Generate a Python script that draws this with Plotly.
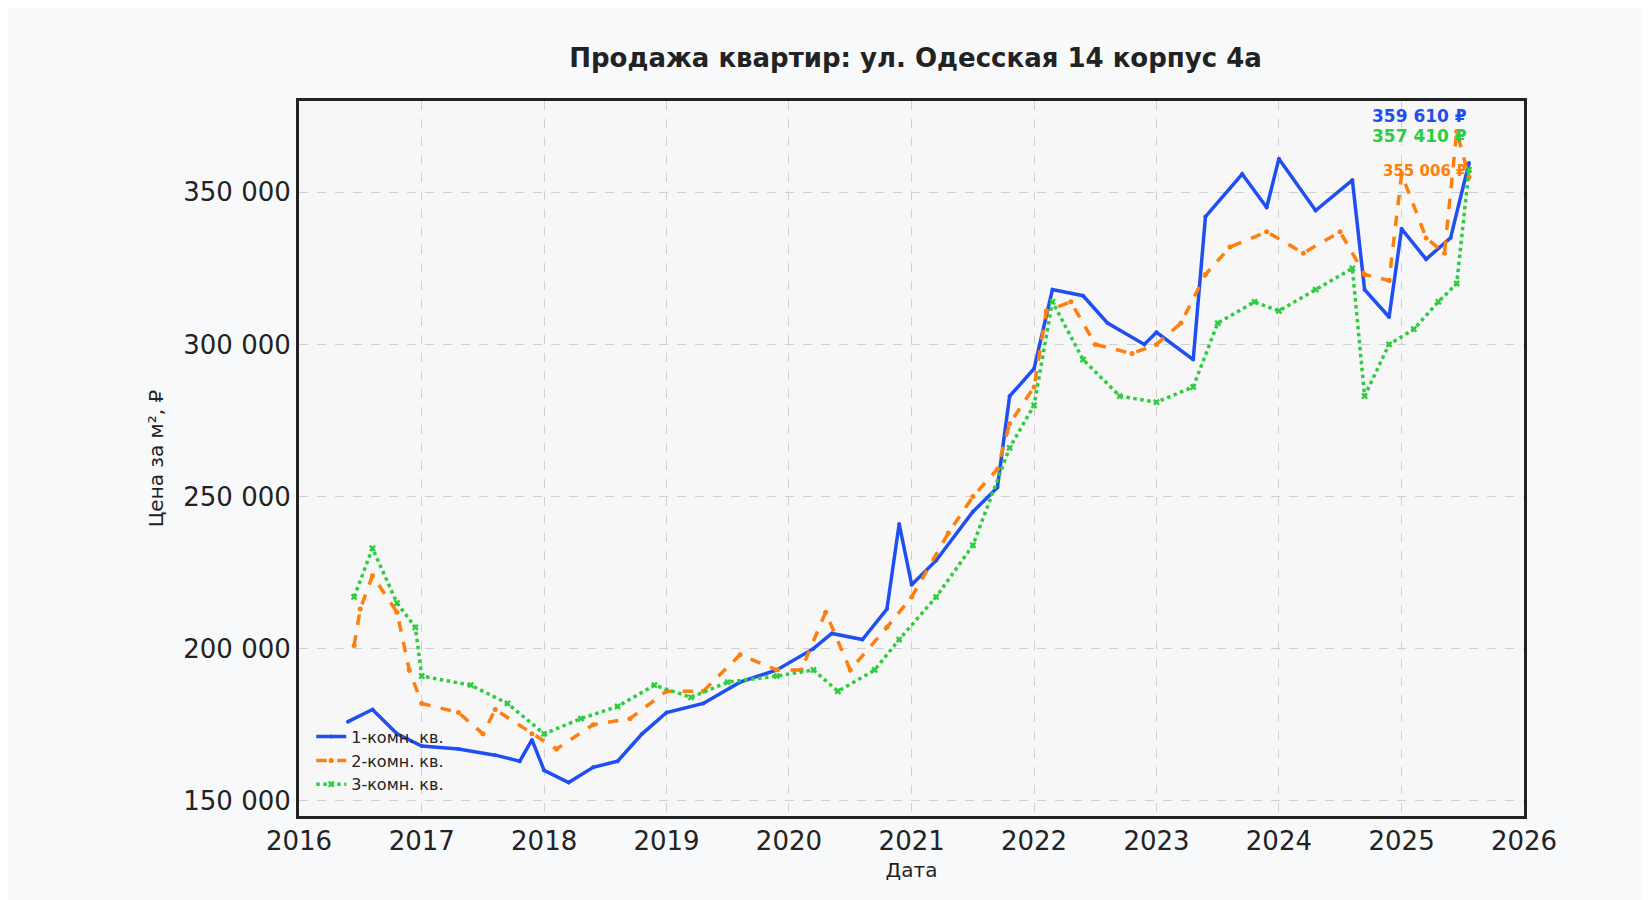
import pandas as pd
import plotly.graph_objects as go


def to_dates(years):
    out = []
    for y in years:
        yr = int(y)
        start = pd.Timestamp(year=yr, month=1, day=1)
        out.append(start + pd.Timedelta(days=(y - yr) * 365.25))
    return out


# 1-комн.
t1 = [2016.4, 2016.6, 2016.8, 2017.0, 2017.3, 2017.6, 2017.8, 2017.9, 2018.0, 2018.2,
      2018.4, 2018.6, 2018.8, 2019.0, 2019.3, 2019.6, 2019.9, 2020.2, 2020.35, 2020.6,
      2020.8, 2020.9, 2021.0, 2021.2, 2021.5, 2021.7, 2021.8, 2022.0, 2022.15, 2022.4,
      2022.6, 2022.9, 2023.0, 2023.3, 2023.4, 2023.7, 2023.9, 2024.0, 2024.3, 2024.6,
      2024.7, 2024.9, 2025.0, 2025.2, 2025.4, 2025.55]
v1 = [176, 180, 172, 168, 167, 165, 163, 170, 160, 156,
      161, 163, 172, 179, 182, 189, 193, 200, 205, 203,
      213, 241, 221, 229, 245, 253, 283, 292, 318, 316,
      307, 300, 304, 295, 342, 356, 345, 361, 344, 354,
      318, 309, 338, 328, 335, 359.61]

# 2-комн.
t2 = [2016.45, 2016.5, 2016.6, 2016.8, 2016.9, 2017.0, 2017.3, 2017.5, 2017.6, 2017.9,
      2018.1, 2018.4, 2018.7, 2019.0, 2019.3, 2019.6, 2019.9, 2020.1, 2020.3, 2020.5,
      2020.8, 2021.0, 2021.3, 2021.5, 2021.7, 2021.8, 2022.0, 2022.1, 2022.3, 2022.5,
      2022.8, 2023.0, 2023.2, 2023.4, 2023.6, 2023.9, 2024.2, 2024.5, 2024.7, 2024.9,
      2025.0, 2025.2, 2025.35, 2025.45, 2025.55]
v2 = [201, 213, 224, 212, 193, 182, 179, 172, 180, 172,
      167, 175, 177, 186, 186, 198, 193, 193, 212, 193,
      207, 217, 238, 250, 259, 274, 286, 311, 314, 300,
      297, 300, 307, 323, 332, 337, 330, 337, 323, 321,
      356, 335, 330, 370, 355.006]

# 3-комн.
t3 = [2016.45, 2016.6, 2016.8, 2016.95, 2017.0, 2017.4, 2017.7, 2018.0, 2018.3, 2018.6,
      2018.9, 2019.2, 2019.5, 2019.9, 2020.2, 2020.4, 2020.7, 2020.9, 2021.2, 2021.5,
      2021.8, 2022.0, 2022.15, 2022.4, 2022.7, 2023.0, 2023.3, 2023.5, 2023.8, 2024.0,
      2024.3, 2024.6, 2024.7, 2024.9, 2025.1, 2025.3, 2025.45, 2025.55]
v3 = [217, 233, 215, 207, 191, 188, 182, 172, 177, 181,
      188, 184, 189, 191, 193, 186, 193, 203, 217, 234,
      266, 280, 314, 295, 283, 281, 286, 307, 314, 311,
      318, 325, 283, 300, 305, 314, 320, 357.41]

series = [
    ("1-комн. кв.", t1, v1, "#1f4ff0", "solid", "circle", 4, "359 610 ₽", 0),
    ("2-комн. кв.", t2, v2, "#ff7f0e", "dash", "circle", 5, "355 006 ₽", 2),
    ("3-комн. кв.", t3, v3, "#2ecc40", "dot", "x", 6, "357 410 ₽", 1),
]

fig = go.Figure()
for name, t, v, color, dash, sym, size, label, _ in series:
    fig.add_trace(go.Scatter(
        x=to_dates(t), y=[x * 1000 for x in v], name=name, mode="lines+markers",
        line=dict(color=color, width=3.5, dash=dash),
        marker=dict(color=color, symbol=sym, size=size),
    ))

label_y = {0: 375000, 1: 368500, 2: 357000}
for name, t, v, color, dash, sym, size, label, k in series:
    fig.add_annotation(
        x=to_dates([t[-1]])[0], y=label_y[k], text=f"<b>{label}</b>",
        showarrow=False, xanchor="right", font=dict(color=color, size=17 if k != 2 else 15),
    )

fig.update_layout(
    width=1650, height=900,
    paper_bgcolor="#f8f9fb", plot_bgcolor="#f7f7f7",
    font=dict(family="DejaVu Sans", color="#222"),
    title=dict(text="<b>Продажа квартир: ул. Одесская 14 корпус 4а</b>",
               x=0.55, y=0.955, font=dict(size=26)),
    margin=dict(l=291, r=134, t=93, b=92),
    legend=dict(x=0.01, y=0.02, xanchor="left", yanchor="bottom",
                bgcolor="rgba(0,0,0,0)", font=dict(size=16)),
    xaxis=dict(
        title=dict(text="Дата", font=dict(size=20), standoff=8),
        range=["2016-01-01", "2026-01-01"], dtick="M12", tickformat="%Y",
        tickfont=dict(size=26), showgrid=True, gridcolor="#d0d0d0", griddash="dash",
        showline=True, linecolor="#222", linewidth=3, mirror=True, ticks="", zeroline=False,
    ),
    yaxis=dict(
        title=dict(text="Цена за м², ₽", font=dict(size=20)),
        range=[145000, 380000], tickvals=[150000, 200000, 250000, 300000, 350000],
        ticktext=["150 000", "200 000", "250 000", "300 000", "350 000"],
        tickfont=dict(size=26), showgrid=True, gridcolor="#d0d0d0", griddash="dash",
        showline=True, linecolor="#222", linewidth=3, mirror=True, zeroline=False,
    ),
)

fig.write_html("out.html")
